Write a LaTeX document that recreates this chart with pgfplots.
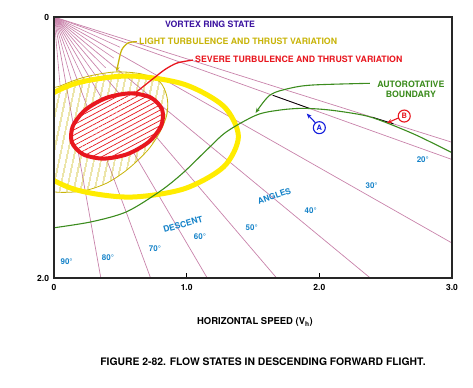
\documentclass[border=0pt]{standalone}
\usepackage{fontspec}
\setmainfont{TeX Gyre Heros}
\usepackage{pgfplots}
\pgfplotsset{compat=1.18}
\usetikzlibrary{patterns.meta,arrows.meta}
\definecolor{pinkC}{RGB}{200,130,170}
\definecolor{yellowC}{RGB}{255,236,0}
\definecolor{oliveC}{RGB}{200,180,10}
\definecolor{redC}{RGB}{232,22,30}
\definecolor{greenC}{RGB}{60,140,30}
\definecolor{purpleC}{RGB}{60,20,160}
\definecolor{blueA}{RGB}{20,30,220}
\definecolor{cyanC}{RGB}{20,130,200}
\newcommand\lab{\fontsize{8.8}{10}\selectfont\bfseries}
\newcommand\ang{\fontsize{8}{9}\selectfont\bfseries}
\begin{document}
\begin{tikzpicture}
\begin{axis}[
  scale only axis, width=398bp, height=261bp,
  xmin=0, xmax=3, ymin=0, ymax=2, y dir=reverse,
  axis on top,
  axis line style={line width=1.1pt, draw=black!85},
  xtick={0,1,2,3}, xticklabels={0,1.0,2.0,3.0},
  ytick={0,2}, yticklabels={0,2.0},
  tick align=inside, xtick pos=bottom, ytick pos=left,
  major tick length=5bp,
  ytick style={draw=none},
  xtick style={black, line width=0.8pt},
  ticklabel style={font=\fontsize{8.5}{10}\selectfont\bfseries},
  yticklabel style={xshift=-1.5bp},
  xticklabel style={yshift=-3bp},
  xlabel={HORIZONTAL SPEED (V\textsubscript{h})},
  xlabel style={at={(axis description cs:0.505,-0.17)}, anchor=center, font=\fontsize{9.5}{11}\selectfont\bfseries},
]
% descent angle lines
\addplot[pinkC, line width=0.7pt] coordinates {(0,0) (0.353,2)};
\addplot[pinkC, line width=0.7pt] coordinates {(0,0) (0.728,2)};
\addplot[pinkC, line width=0.7pt] coordinates {(0,0) (1.155,2)};
\addplot[pinkC, line width=0.7pt] coordinates {(0,0) (1.678,2)};
\addplot[pinkC, line width=0.7pt] coordinates {(0,0) (2.384,2)};
\addplot[pinkC, line width=0.7pt] coordinates {(0,0) (3,1.732)};
\addplot[pinkC, line width=0.7pt] coordinates {(0,0) (3,1.092)};
\addplot[pinkC, line width=0.7pt] coordinates {(0,0) (3,0.96)};
% short intermediate lines near origin
\addplot[pinkC, line width=0.6pt] coordinates {(0,0) (0.048,0.548)};
\addplot[pinkC, line width=0.6pt] coordinates {(0,0) (0.142,0.531)};
\addplot[pinkC, line width=0.6pt] coordinates {(0,0) (0.232,0.498)};
\addplot[pinkC, line width=0.6pt] coordinates {(0,0) (0.315,0.451)};
\addplot[pinkC, line width=0.6pt] coordinates {(0,0) (0.389,0.389)};
\addplot[pinkC, line width=0.6pt] coordinates {(0,0) (0.451,0.315)};
\addplot[pinkC, line width=0.6pt] coordinates {(0,0) (0.498,0.232)};
% dark segments near A and B
\addplot[black, line width=0.8pt] coordinates {(1.65,0.600) (1.93,0.702)};
\addplot[black, line width=0.8pt] coordinates {(2.40,0.768) (2.56,0.819)};
% light turbulence region
\addplot[draw=oliveC, line width=0.8pt, pattern={Lines[angle=78,distance=6bp,line width=0.75bp]}, pattern color=oliveC, smooth cycle] coordinates {
 (-0.181,0.636) (0.045,0.529) (0.234,0.460) (0.460,0.421) (0.663,0.437) (0.799,0.498)
 (0.852,0.613) (0.852,0.743) (0.799,0.881) (0.708,1.019) (0.558,1.165) (0.399,1.272)
 (0.219,1.333) (0.008,1.341) (-0.181,1.287)};
% severe turbulence region
\addplot[draw=redC, line width=4bp, fill=white, smooth cycle] coordinates {
 (0.815,0.710) (0.808,0.834) (0.712,0.959) (0.552,1.051) (0.372,1.085) (0.219,1.052)
 (0.135,0.961) (0.142,0.836) (0.237,0.711) (0.397,0.619) (0.578,0.585) (0.731,0.618)};
\addplot[draw=none, pattern={Lines[angle=28,distance=4.6bp,line width=0.7bp]}, pattern color=redC, smooth cycle] coordinates {
 (0.815,0.710) (0.808,0.834) (0.712,0.959) (0.552,1.051) (0.372,1.085) (0.219,1.052)
 (0.135,0.961) (0.142,0.836) (0.237,0.711) (0.397,0.619) (0.578,0.585) (0.731,0.618)};
% vortex ring state (thick yellow ellipse)
\addplot[yellowC, line width=5bp, smooth cycle] coordinates {
 (1.390,0.916) (1.279,1.148) (0.976,1.318) (0.561,1.380) (0.147,1.318) (-0.157,1.148)
 (-0.268,0.916) (-0.157,0.684) (0.147,0.514) (0.561,0.452) (0.976,0.514) (1.279,0.684)};
% autorotative boundary
\addplot[greenC, line width=1.1pt, smooth] coordinates {
 (0,1.615) (0.284,1.569) (0.548,1.492) (0.80,1.335) (0.972,1.195) (1.151,1.019)
 (1.301,0.879) (1.527,0.751) (1.703,0.713) (1.876,0.700) (2.080,0.713) (2.329,0.752)
 (2.48,0.800) (2.73,0.905) (3.0,1.04)};
% leaders
\addplot[greenC, line width=1.1pt, smooth, -{Stealth[length=5bp,width=4bp]}] coordinates {
 (2.381,0.508) (1.952,0.521) (1.778,0.546) (1.628,0.598) (1.52,0.735)};
\addplot[oliveC, line width=1.3pt, smooth, -{Stealth[length=5bp,width=4bp]}] coordinates {
 (0.625,0.189) (0.558,0.199) (0.510,0.253) (0.485,0.352) (0.472,0.420)};
\addplot[redC, line width=1.3pt, smooth, -{Stealth[length=5bp,width=4bp]}] coordinates {
 (1.047,0.330) (0.93,0.352) (0.84,0.40) (0.75,0.47) (0.59,0.60)};
\addplot[blueA, line width=1.1pt, -{Stealth[length=5bp,width=4bp]}] coordinates {(1.97,0.81) (1.905,0.74)};
\addplot[redC, line width=1.1pt, -{Stealth[length=5bp,width=4bp]}] coordinates {(2.60,0.772) (2.51,0.812)};
% labels
\node[anchor=west, text=purpleC, font=\lab, inner sep=0pt] at (axis cs:0.836,0.054) {VORTEX RING STATE};
\node[anchor=west, text=oliveC, font=\lab, inner sep=0pt] at (axis cs:0.641,0.186) {LIGHT TURBULENCE AND THRUST VARIATION};
\node[anchor=west, text=redC, font=\lab, inner sep=0pt] at (axis cs:1.063,0.324) {SEVERE TURBULENCE AND THRUST VARIATION};
\node[align=center, text=greenC, font=\lab, inner sep=0pt] at (axis cs:2.69,0.554) {AUTOROTATIVE\\BOUNDARY};
\node[circle, draw=blueA, line width=1.1pt, text=blueA, inner sep=0pt, minimum size=12bp, font=\fontsize{7.5}{8}\selectfont\bfseries] at (axis cs:2.0,0.848) {A};
\node[circle, draw=redC, line width=1.1pt, text=redC, inner sep=0pt, minimum size=12bp, font=\fontsize{7.5}{8}\selectfont\bfseries] at (axis cs:2.64,0.759) {B};
\node[text=cyanC, font=\ang, inner sep=0pt] at (axis cs:0.095,1.872) {90°};
\node[text=cyanC, font=\ang, inner sep=0pt] at (axis cs:0.407,1.845) {80°};
\node[text=cyanC, font=\ang, inner sep=0pt] at (axis cs:0.761,1.773) {70°};
\node[text=cyanC, font=\ang, inner sep=0pt] at (axis cs:1.10,1.686) {60°};
\node[text=cyanC, font=\ang, inner sep=0pt] at (axis cs:1.49,1.611) {50°};
\node[text=cyanC, font=\ang, inner sep=0pt] at (axis cs:1.935,1.485) {40°};
\node[text=cyanC, font=\ang, inner sep=0pt] at (axis cs:2.394,1.295) {30°};
\node[text=cyanC, font=\ang, inner sep=0pt] at (axis cs:2.78,1.09) {20°};
\node[text=cyanC, font=\fontsize{8.5}{9}\selectfont\bfseries, rotate=16, inner sep=0pt] at (axis cs:0.972,1.589) {DESCENT};
\node[text=cyanC, font=\fontsize{8.3}{9}\selectfont\bfseries, rotate=19, inner sep=0pt] at (axis cs:1.66,1.372) {ANGLES};
\end{axis}
\node[font=\fontsize{10.4}{12}\selectfont\bfseries] at ([xshift=209bp,yshift=-84bp]current axis.south west) {FIGURE 2-82. FLOW STATES IN DESCENDING FORWARD FLIGHT.};
\pgfresetboundingbox
\path ([xshift=-54bp,yshift=-110bp]current axis.south west) rectangle ([xshift=21bp,yshift=17bp]current axis.north east);
\end{tikzpicture}
\end{document}
